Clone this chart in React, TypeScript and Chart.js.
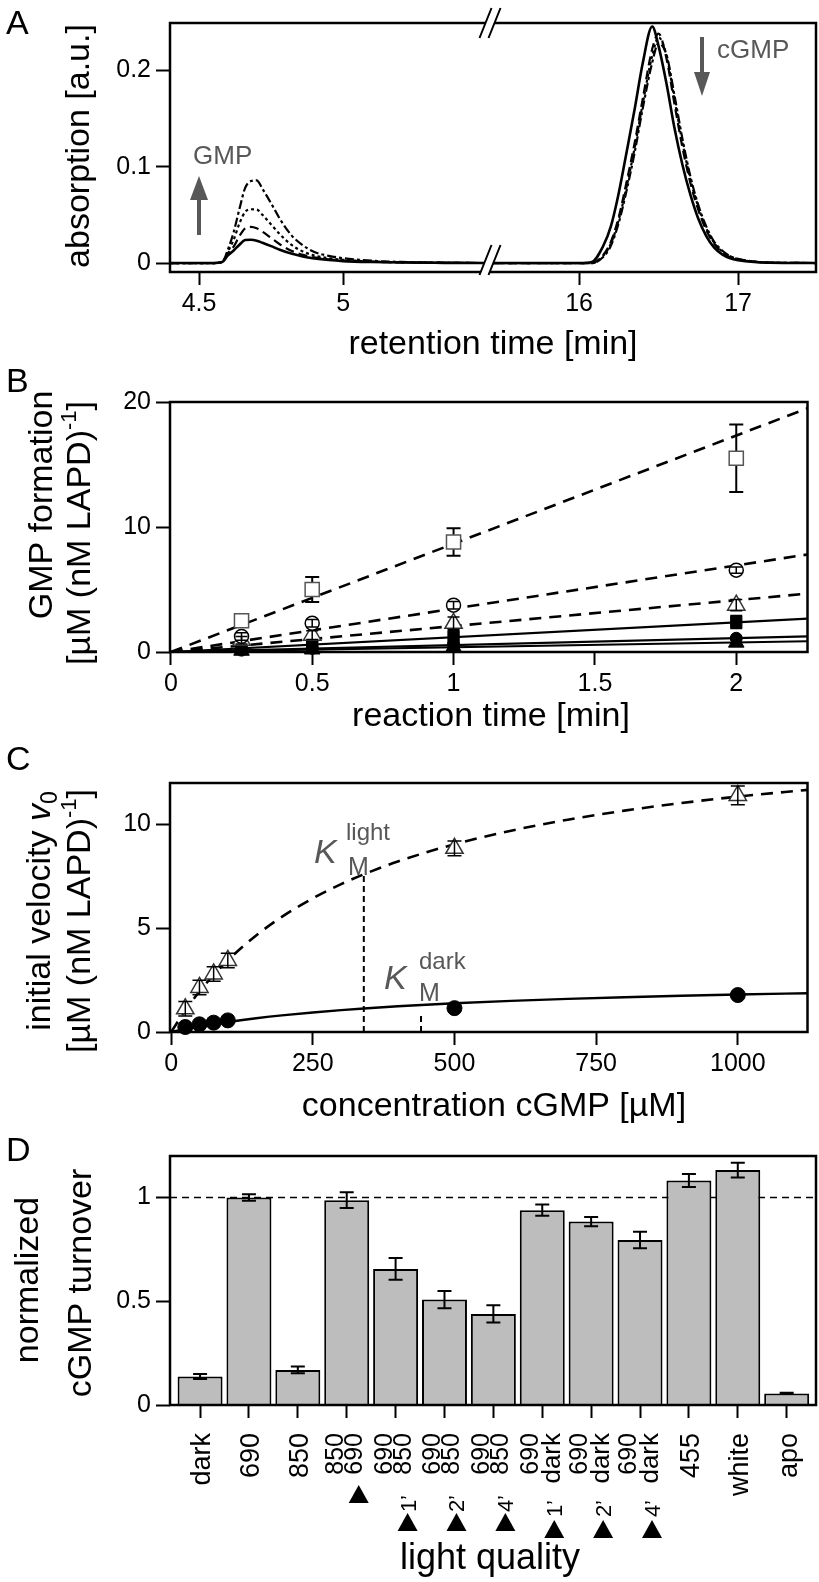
import React, { useEffect, useRef } from "react";
import { Chart, registerables } from "chart.js";
Chart.register(...registerables);

const FONT = "'Liberation Sans', Arial, Helvetica, sans-serif";
const GRAY = "#585858";

// ---------------- Panel A: chromatogram ----------------
const timesLeft = [4.40, 4.55, 4.58, 4.60, 4.62, 4.64, 4.66, 4.68, 4.70, 4.72, 4.75, 4.78, 4.82, 4.86, 4.90, 4.95, 5.00, 5.10, 5.20, 5.35, 5.51];
const gmpSolid = [0, 0, 0.001, 0.008, 0.013, 0.019, 0.0238, 0.0242, 0.0232, 0.021, 0.0175, 0.0138, 0.0098, 0.0068, 0.0048, 0.0031, 0.002, 0.001, 0.0005, 0.0002, 0];
const gmpDash = [0, 0, 0.001, 0.010, 0.017, 0.028, 0.036, 0.0375, 0.036, 0.0325, 0.026, 0.0195, 0.0128, 0.0085, 0.0058, 0.0038, 0.0026, 0.0013, 0.0007, 0.0003, 0];
const gmpDot = [0, 0, 0.001, 0.012, 0.024, 0.041, 0.053, 0.0558, 0.0555, 0.050, 0.040, 0.030, 0.019, 0.012, 0.0078, 0.005, 0.0034, 0.0016, 0.0008, 0.0003, 0];
const gmpDashDot = [0, 0, 0.001, 0.014, 0.032, 0.056, 0.078, 0.0850, 0.0858, 0.077, 0.062, 0.046, 0.029, 0.0185, 0.0115, 0.0075, 0.005, 0.0024, 0.0011, 0.0004, 0];

const timesRight = [15.44, 16.00, 16.08, 16.15, 16.20, 16.25, 16.30, 16.35, 16.40, 16.46, 16.50, 16.55, 16.60, 16.65, 16.70, 16.75, 16.80, 16.85, 16.90, 16.95, 17.00, 17.10, 17.20, 17.49];
const cgmpSolid = [0, 0, 0.001, 0.017, 0.038, 0.073, 0.116, 0.160, 0.207, 0.2454, 0.225, 0.186, 0.140, 0.102, 0.071, 0.046, 0.028, 0.016, 0.009, 0.005, 0.003, 0.001, 0.0003, 0];
const cgmpDash = [0, 0, 0, 0.008, 0.022, 0.048, 0.085, 0.125, 0.170, 0.222, 0.238, 0.212, 0.165, 0.120, 0.083, 0.055, 0.034, 0.020, 0.011, 0.006, 0.004, 0.0015, 0.0005, 0];
const cgmpDot = [0, 0, 0, 0.007, 0.020, 0.045, 0.080, 0.120, 0.165, 0.215, 0.234, 0.215, 0.170, 0.125, 0.087, 0.058, 0.036, 0.021, 0.012, 0.007, 0.004, 0.0015, 0.0005, 0];
const cgmpDashDot = [0, 0, 0, 0.006, 0.018, 0.042, 0.076, 0.115, 0.160, 0.208, 0.228, 0.216, 0.174, 0.129, 0.090, 0.060, 0.038, 0.022, 0.013, 0.007, 0.0045, 0.0015, 0.0005, 0];

const xTicksA = [4.5, 5, 16, 17];
const yTicksA = [0, 0.1, 0.2];

// axis break: left segment up to 5.51 min, right segment from 15.44 min
const BREAK_L = 5.51;
const BREAK_R = 15.44;
const RIGHT_SCALE = 159 / 288;
const mapA = (t: number) => (t <= BREAK_L + 1e-9 ? t : BREAK_L + (t - BREAK_R) * RIGHT_SCALE);
const unmapA = (u: number) => (u <= BREAK_L + 1e-9 ? u : BREAK_R + (u - BREAK_L) / RIGHT_SCALE);

// ---------------- Panel B: GMP formation vs time ----------------
const timesB = [0.25, 0.5, 1, 2];
const sqOpen = [2.5, 5.0, 8.8, 15.5];
const sqOpenErr = [0.3, 1.0, 1.1, 2.7];
const circOpen = [1.25, 2.3, 3.75, 6.55];
const circOpenErr = [0.3, 0.3, 0.3, 0.25];
const triOpen = [0.95, 1.35, 2.3, 3.75];
const triOpenErr = [0.3, 0.35, 0.5, 0.45];
const sqFill = [0.3, 0.6, 1.2, 2.4];
const sqFillErr = [0.1, 0.2, 0.5, 0.5];
const circFill = [0.15, 0.3, 0.6, 1.1];
const triFill = [0.1, 0.2, 0.4, 0.75];
const fitTimeB = [0, 2.252];
const fitSqOpen = [0, 19.5];
const fitCircOpen = [0, 7.8];
const fitTriOpen = [0, 4.67];
const fitSqFill = [0, 2.67];
const fitCircFill = [0, 1.25];
const fitTriFill = [0, 0.86];
const xTicksB = [0, 0.5, 1, 1.5, 2];
const yTicksB = [0, 10, 20];

// ---------------- Panel C: Michaelis-Menten ----------------
const concC = [25, 50, 75, 100, 500, 1000];
const lightV = [1.12, 2.15, 2.8, 3.45, 8.85, 11.4];
const lightErr = [0.35, 0.35, 0.35, 0.35, 0.35, 0.45];
const darkV = [0.24, 0.37, 0.45, 0.56, 1.15, 1.78];
const fitConc = [0, 25, 50, 75, 100, 150, 200, 250, 300, 340, 400, 500, 600, 700, 800, 900, 1000, 1125];
const fitLight = [0, 1.041, 1.949, 2.747, 3.455, 4.653, 5.63, 6.441, 7.125, 7.6, 8.216, 9.048, 9.702, 10.231, 10.667, 11.032, 11.343, 11.672];
const fitDark = [0, 0.14, 0.265, 0.379, 0.481, 0.661, 0.8125, 0.942, 1.054, 1.133, 1.238, 1.383, 1.5, 1.596, 1.677, 1.746, 1.806, 1.869];
const kmLight = 340;
const kmLightTop = 7.6;
const kmDark = 441;
const kmDarkTop = 0.9;
const xTicksC = [0, 250, 500, 750, 1000];
const yTicksC = [0, 5, 10];

// ---------------- Panel D: normalized turnover ----------------
const lightFirst = ["dark", "690", "850", "850", "690", "690", "690", "690", "690", "690", "455", "white", "apo"];
const lightSecond = ["", "", "", "690", "850", "850", "850", "dark", "dark", "dark", "", "", ""];
const switchDelay = ["", "", "", "", "1\u2019", "2\u2019", "4\u2019", "1\u2019", "2\u2019", "4\u2019", "", "", ""];
const turnover = [0.137, 1.0, 0.169, 0.987, 0.656, 0.508, 0.439, 0.939, 0.884, 0.795, 1.082, 1.132, 0.056];
const turnoverErr = [0.012, 0.016, 0.016, 0.038, 0.052, 0.042, 0.042, 0.027, 0.022, 0.04, 0.031, 0.036, 0.003];
const yTicksD = [0, 0.5, 1];
const referenceLevel = 1;

// ---------------- helpers ----------------
const fmt = (v: number) => String(Math.round(v * 1000) / 1000);

function axisX(min: number, max: number, ticks: number[], height: number, cb?: (v: number) => string, showLabels = true) {
  return {
    type: "linear",
    position: "bottom",
    min,
    max,
    offset: false,
    afterBuildTicks: (s: any) => {
      s.ticks = ticks.map((v) => ({ value: v }));
    },
    afterFit: (s: any) => {
      s.height = height;
    },
    grid: { display: true, drawOnChartArea: false, drawTicks: true, tickLength: 13, tickWidth: 2, tickColor: "#000", offset: false },
    border: { display: false },
    ticks: {
      display: showLabels,
      font: { family: FONT, size: 25 },
      color: "#000",
      padding: 4,
      maxRotation: 0,
      minRotation: 0,
      autoSkip: false,
      callback: (v: any) => (cb ? cb(Number(v)) : fmt(Number(v))),
    },
  };
}

function axisY(min: number, max: number, ticks: number[]) {
  return {
    type: "linear",
    position: "left",
    min,
    max,
    afterBuildTicks: (s: any) => {
      s.ticks = ticks.map((v) => ({ value: v }));
    },
    afterFit: (s: any) => {
      s.width = 170;
    },
    grid: { display: true, drawOnChartArea: false, drawTicks: true, tickLength: 14, tickWidth: 2, tickColor: "#000" },
    border: { display: false },
    ticks: { font: { family: FONT, size: 25 }, color: "#000", padding: 5, callback: (v: any) => fmt(Number(v)) },
  };
}

type Part = { t: string; size: number; dy?: number; italic?: boolean; color?: string };

function drawParts(ctx: CanvasRenderingContext2D, parts: Part[], x: number, y: number, align: "center" | "end" | "start", rotate: boolean) {
  ctx.save();
  ctx.translate(x, y);
  if (rotate) ctx.rotate(-Math.PI / 2);
  ctx.textBaseline = "alphabetic";
  ctx.textAlign = "left";
  const fontOf = (p: Part) => `${p.italic ? "italic " : ""}${p.size}px ${FONT}`;
  let total = 0;
  parts.forEach((p) => {
    ctx.font = fontOf(p);
    total += ctx.measureText(p.t).width;
  });
  let cx = align === "center" ? -total / 2 : align === "end" ? -total : 0;
  parts.forEach((p) => {
    ctx.font = fontOf(p);
    ctx.fillStyle = p.color || "#000";
    ctx.fillText(p.t, cx, p.dy || 0);
    cx += ctx.measureText(p.t).width;
  });
  ctx.restore();
}

function drawErrorBars(chart: any, xs: number[], ys: number[], errs: number[], cap: number, width: number, color = "#000") {
  const xS = chart.scales.x;
  const yS = chart.scales.y;
  const ctx = chart.ctx as CanvasRenderingContext2D;
  ctx.save();
  ctx.strokeStyle = color;
  ctx.lineWidth = width;
  xs.forEach((xv, i) => {
    const px = xS.getPixelForValue(xv);
    const t = yS.getPixelForValue(ys[i] + errs[i]);
    const b = yS.getPixelForValue(ys[i] - errs[i]);
    ctx.beginPath();
    ctx.moveTo(px, t);
    ctx.lineTo(px, b);
    ctx.moveTo(px - cap / 2, t);
    ctx.lineTo(px + cap / 2, t);
    ctx.moveTo(px - cap / 2, b);
    ctx.lineTo(px + cap / 2, b);
    ctx.stroke();
  });
  ctx.restore();
}

const boxPlugin = {
  id: "boxFrame",
  afterDraw(chart: any) {
    const { ctx, chartArea: a } = chart;
    ctx.save();
    ctx.lineWidth = 2.5;
    ctx.strokeStyle = "#000";
    ctx.strokeRect(a.left, a.top, a.right - a.left, a.bottom - a.top);
    ctx.restore();
  },
};

function panelLetter(ctx: CanvasRenderingContext2D, letter: string, baseline: number) {
  drawParts(ctx, [{ t: letter, size: 34 }], 6, baseline, "start", false);
}

function lineDs(xs: number[], ys: number[], dash: number[], width: number, extra: any = {}) {
  return {
    data: xs.map((x, i) => ({ x, y: ys[i] })),
    borderColor: "#000",
    borderWidth: width,
    borderDash: dash,
    pointRadius: 0,
    fill: false,
    order: 2,
    ...extra,
  };
}

function pointDs(xs: number[], ys: number[], style: string, radius: number, fillC: string, strokeC: string, bw = 1.5) {
  return {
    data: xs.map((x, i) => ({ x, y: ys[i] })),
    showLine: false,
    pointStyle: style,
    pointRadius: radius,
    pointBackgroundColor: fillC,
    pointBorderColor: strokeC,
    pointBorderWidth: bw,
    borderColor: strokeC,
    backgroundColor: fillC,
    clip: false,
    order: 0,
  };
}

const baseOptions = (top: number, right = 3) => ({
  responsive: false,
  animation: false,
  devicePixelRatio: 1,
  layout: { padding: { left: 0, right, top, bottom: 0 } },
  plugins: { legend: { display: false }, tooltip: { enabled: false }, title: { display: false } },
  events: [],
});

// ---------------- configs ----------------
const TOP_A = 0, H_A = 370;
const TOP_B = 362, H_B = 383;
const TOP_C = 738, H_C = 397;
const TOP_D = 1132, H_D = 450;

function configA(): any {
  const mk = (l: number[], r: number[]) => [...timesLeft.map((t, i) => ({ t, v: l[i] })), ...timesRight.map((t, i) => ({ t, v: r[i] }))];
  const ds = (l: number[], r: number[], dash: number[], w: number) => ({
    data: mk(l, r).map((p) => ({ x: mapA(p.t), y: p.v })),
    borderColor: "#000",
    borderWidth: w,
    borderDash: dash,
    pointRadius: 0,
    cubicInterpolationMode: "monotone",
    fill: false,
  });
  const annot = {
    id: "annotA",
    afterDraw(chart: any) {
      const ctx = chart.ctx as CanvasRenderingContext2D;
      const a = chart.chartArea;
      const bx = chart.scales.x.getPixelForValue(mapA(BREAK_L));
      ctx.save();
      ctx.translate(0, -TOP_A);
      // axis break marks
      [a.top + TOP_A, a.bottom + TOP_A - 12].forEach((cy) => {
        const h = 15, dx = 6, sep = 9;
        ctx.fillStyle = "#fff";
        ctx.beginPath();
        ctx.moveTo(bx - sep / 2 - dx, cy + h);
        ctx.lineTo(bx - sep / 2 + dx, cy - h);
        ctx.lineTo(bx + sep / 2 + dx, cy - h);
        ctx.lineTo(bx + sep / 2 - dx, cy + h);
        ctx.closePath();
        ctx.fill();
        ctx.strokeStyle = "#000";
        ctx.lineWidth = 2;
        ctx.beginPath();
        ctx.moveTo(bx - sep / 2 - dx, cy + h);
        ctx.lineTo(bx - sep / 2 + dx, cy - h);
        ctx.moveTo(bx + sep / 2 - dx, cy + h);
        ctx.lineTo(bx + sep / 2 + dx, cy - h);
        ctx.stroke();
      });
      // arrows
      ctx.fillStyle = GRAY;
      ctx.strokeStyle = GRAY;
      ctx.lineWidth = 4;
      ctx.beginPath();
      ctx.moveTo(199, 235);
      ctx.lineTo(199, 196);
      ctx.stroke();
      ctx.beginPath();
      ctx.moveTo(199, 176);
      ctx.lineTo(190, 200);
      ctx.lineTo(208, 200);
      ctx.closePath();
      ctx.fill();
      ctx.beginPath();
      ctx.moveTo(702, 37);
      ctx.lineTo(702, 76);
      ctx.stroke();
      ctx.beginPath();
      ctx.moveTo(702, 96);
      ctx.lineTo(694, 72);
      ctx.lineTo(710, 72);
      ctx.closePath();
      ctx.fill();
      drawParts(ctx, [{ t: "GMP", size: 26, color: GRAY }], 193, 164, "start", false);
      drawParts(ctx, [{ t: "cGMP", size: 26, color: GRAY }], 717, 58, "start", false);
      // titles
      panelLetter(ctx, "A", 34);
      drawParts(ctx, [{ t: "absorption [a.u.]", size: 34 }], 89, 146, "center", true);
      drawParts(ctx, [{ t: "retention time [min]", size: 34 }], 493, 354, "center", false);
      ctx.restore();
    },
  };
  return {
    type: "line",
    data: {
      datasets: [
        ds(gmpSolid, cgmpSolid, [], 2.6),
        ds(gmpDash, cgmpDash, [9, 5], 2.2),
        ds(gmpDot, cgmpDot, [3, 3], 2.2),
        ds(gmpDashDot, cgmpDashDot, [9, 3, 3, 3], 2.2),
      ],
    },
    options: {
      ...baseOptions(23 - TOP_A),
      scales: {
        x: axisX(4.399, mapA(17.49), xTicksA.map(mapA), H_A - (272 - TOP_A), (v) => fmt(unmapA(v))),
        y: axisY(-0.0093, 0.249, yTicksA),
      },
    },
    plugins: [boxPlugin, annot],
  };
}

function configB(): any {
  const annot = {
    id: "annotB",
    beforeDatasetsDraw(chart: any) {
      drawErrorBars(chart, timesB, sqOpen, sqOpenErr, 14, 2);
      drawErrorBars(chart, timesB, sqFill, sqFillErr, 12, 2);
    },
    afterDatasetsDraw(chart: any) {
      drawErrorBars(chart, timesB, circOpen, circOpenErr, 12, 1.5);
      drawErrorBars(chart, timesB, triOpen, triOpenErr, 12, 1.5);
    },
    afterDraw(chart: any) {
      const ctx = chart.ctx as CanvasRenderingContext2D;
      ctx.save();
      ctx.translate(0, -TOP_B);
      panelLetter(ctx, "B", 392);
      drawParts(ctx, [{ t: "GMP formation", size: 34 }], 52, 505, "center", true);
      drawParts(
        ctx,
        [
          { t: "[\u00b5M (nM LAPD)", size: 34 },
          { t: "-1", size: 22, dy: -14 },
          { t: "]", size: 34 },
        ],
        90,
        533,
        "center",
        true
      );
      drawParts(ctx, [{ t: "reaction time [min]", size: 34 }], 491, 726, "center", false);
      ctx.restore();
    },
  };
  return {
    type: "line",
    data: {
      datasets: [
        pointDs(timesB, sqOpen, "rect", 10, "#fff", "#555", 1.5),
        pointDs(timesB, circOpen, "circle", 7, "#fff", "#000", 1.5),
        pointDs(timesB, triOpen, "triangle", 10, "#fff", "#333", 1.5),
        pointDs(timesB, sqFill, "rect", 8, "#000", "#000", 1),
        pointDs(timesB, circFill, "circle", 6, "#000", "#000", 1),
        pointDs(timesB, triFill, "triangle", 9, "#000", "#000", 1),
        lineDs(fitTimeB, fitSqOpen, [12, 8], 2.6),
        lineDs(fitTimeB, fitCircOpen, [12, 8], 2.6),
        lineDs(fitTimeB, fitTriOpen, [12, 8], 2.6),
        lineDs(fitTimeB, fitSqFill, [], 2.2),
        lineDs(fitTimeB, fitCircFill, [], 2.2),
        lineDs(fitTimeB, fitTriFill, [], 2.2),
      ],
    },
    options: {
      ...baseOptions(402 - TOP_B),
      scales: {
        x: axisX(-0.003, 2.252, xTicksB, H_B - (652 - TOP_B)),
        y: axisY(0, 20, yTicksB),
      },
    },
    plugins: [boxPlugin, annot],
  };
}

function configC(): any {
  const annot = {
    id: "annotC",
    beforeDatasetsDraw(chart: any) {
      const ctx = chart.ctx as CanvasRenderingContext2D;
      const xS = chart.scales.x, yS = chart.scales.y;
      ctx.save();
      ctx.strokeStyle = "#000";
      ctx.lineWidth = 2;
      ctx.setLineDash([6, 4]);
      [[kmLight, kmLightTop], [kmDark, kmDarkTop]].forEach(([k, top]) => {
        ctx.beginPath();
        ctx.moveTo(xS.getPixelForValue(k), yS.getPixelForValue(0));
        ctx.lineTo(xS.getPixelForValue(k), yS.getPixelForValue(top));
        ctx.stroke();
      });
      ctx.restore();
    },
    afterDatasetsDraw(chart: any) {
      drawErrorBars(chart, concC, lightV, lightErr, 14, 1.5);
    },
    afterDraw(chart: any) {
      const ctx = chart.ctx as CanvasRenderingContext2D;
      ctx.save();
      ctx.translate(0, -TOP_C);
      panelLetter(ctx, "C", 770);
      drawParts(ctx, [{ t: "K", size: 34, italic: true, color: GRAY }], 314, 863, "start", false);
      drawParts(ctx, [{ t: "light", size: 24, color: GRAY }], 346, 840, "start", false);
      drawParts(ctx, [{ t: "M", size: 25, color: GRAY }], 348, 875, "start", false);
      drawParts(ctx, [{ t: "K", size: 34, italic: true, color: GRAY }], 384, 989, "start", false);
      drawParts(ctx, [{ t: "dark", size: 24, color: GRAY }], 419, 969, "start", false);
      drawParts(ctx, [{ t: "M", size: 25, color: GRAY }], 419, 1001, "start", false);
      drawParts(
        ctx,
        [
          { t: "initial velocity ", size: 34 },
          { t: "v", size: 34, italic: true },
          { t: "0", size: 23, dy: 7 },
        ],
        50,
        911,
        "center",
        true
      );
      drawParts(
        ctx,
        [
          { t: "[\u00b5M (nM LAPD)", size: 34 },
          { t: "-1", size: 22, dy: -14 },
          { t: "]", size: 34 },
        ],
        90,
        921,
        "center",
        true
      );
      drawParts(ctx, [{ t: "concentration cGMP [\u00b5M]", size: 34 }], 494, 1116, "center", false);
      ctx.restore();
    },
  };
  return {
    type: "line",
    data: {
      datasets: [
        pointDs(concC, lightV, "triangle", 10, "#fff", "#333", 1.5),
        pointDs(concC, darkV, "circle", 7.5, "#000", "#000", 1),
        lineDs(fitConc, fitLight, [12, 8], 2.6, { cubicInterpolationMode: "monotone" }),
        lineDs(fitConc, fitDark, [], 2.4, { cubicInterpolationMode: "monotone" }),
      ],
    },
    options: {
      ...baseOptions(783 - TOP_C),
      scales: {
        x: axisX(-2, 1123, xTicksC, H_C - (1032 - TOP_C)),
        y: axisY(0, 12, yTicksC),
      },
    },
    plugins: [boxPlugin, annot],
  };
}

function configD(): any {
  const idx = turnover.map((_, i) => i);
  const annot = {
    id: "annotD",
    beforeDatasetsDraw(chart: any) {
      const ctx = chart.ctx as CanvasRenderingContext2D;
      const a = chart.chartArea;
      const y = chart.scales.y.getPixelForValue(referenceLevel);
      ctx.save();
      ctx.strokeStyle = "#000";
      ctx.lineWidth = 1.6;
      ctx.setLineDash([7, 5]);
      ctx.beginPath();
      ctx.moveTo(a.left, y);
      ctx.lineTo(a.right, y);
      ctx.stroke();
      ctx.restore();
    },
    afterDatasetsDraw(chart: any) {
      drawErrorBars(chart, idx, turnover, turnoverErr, 14, 2);
    },
    afterDraw(chart: any) {
      const ctx = chart.ctx as CanvasRenderingContext2D;
      const xS = chart.scales.x;
      ctx.save();
      ctx.translate(0, -TOP_D);
      panelLetter(ctx, "D", 1161);
      drawParts(ctx, [{ t: "normalized", size: 34 }], 38, 1280, "center", true);
      drawParts(ctx, [{ t: "cGMP turnover", size: 34 }], 91, 1283, "center", true);
      drawParts(ctx, [{ t: "light quality", size: 36 }], 490, 1569, "center", false);
      idx.forEach((i) => {
        const px = xS.getPixelForValue(i);
        if (!lightSecond[i]) {
          drawParts(ctx, [{ t: lightFirst[i], size: 27 }], px + 10, 1433, "end", true);
          return;
        }
        const isDark = lightSecond[i] === "dark";
        drawParts(ctx, [{ t: lightFirst[i], size: 25 }], px - 4, 1433, "end", true);
        drawParts(ctx, [{ t: lightSecond[i], size: isDark ? 26 : 25 }], px + (isDark ? 18 : 15), 1433, "end", true);
        let triTop = 1485;
        if (switchDelay[i]) {
          drawParts(ctx, [{ t: switchDelay[i], size: 22 }], px + 20, isDark ? 1500 : 1495, "end", true);
          triTop = isDark ? 1520 : 1513;
        }
        const cx = px + 12;
        ctx.fillStyle = "#000";
        ctx.beginPath();
        ctx.moveTo(cx, triTop);
        ctx.lineTo(cx + 10, triTop + 18);
        ctx.lineTo(cx - 10, triTop + 18);
        ctx.closePath();
        ctx.fill();
      });
      ctx.restore();
    },
  };
  return {
    type: "bar",
    data: {
      datasets: [
        {
          data: idx.map((i) => ({ x: i, y: turnover[i] })),
          backgroundColor: "#bdbdbd",
          borderColor: "#000",
          borderWidth: 2,
          barPercentage: 1,
          categoryPercentage: 0.92,
        },
      ],
    },
    options: {
      ...baseOptions(1156 - TOP_D),
      scales: {
        x: axisX(-0.615, 12.6, idx, H_D - (1405 - TOP_D), undefined, false),
        y: axisY(0, 1.2, yTicksD),
      },
    },
    plugins: [boxPlugin, annot],
  };
}

function Panel({ top, height, build }: { top: number; height: number; build: () => any }) {
  const ref = useRef<HTMLCanvasElement>(null);
  useEffect(() => {
    const chart = new Chart(ref.current as HTMLCanvasElement, build());
    return () => chart.destroy();
  }, []);
  return (
    <canvas
      ref={ref}
      width={819}
      height={height}
      style={{ position: "absolute", left: 0, top, width: 819, height, display: "block" }}
    />
  );
}

export default function App() {
  useEffect(() => {
    document.body.style.margin = "0";
  }, []);
  return (
    <div style={{ position: "relative", width: 819, height: 1582, background: "#fff", overflow: "hidden" }}>
      <Panel top={TOP_A} height={H_A} build={configA} />
      <Panel top={TOP_B} height={H_B} build={configB} />
      <Panel top={TOP_C} height={H_C} build={configC} />
      <Panel top={TOP_D} height={H_D} build={configD} />
    </div>
  );
}
